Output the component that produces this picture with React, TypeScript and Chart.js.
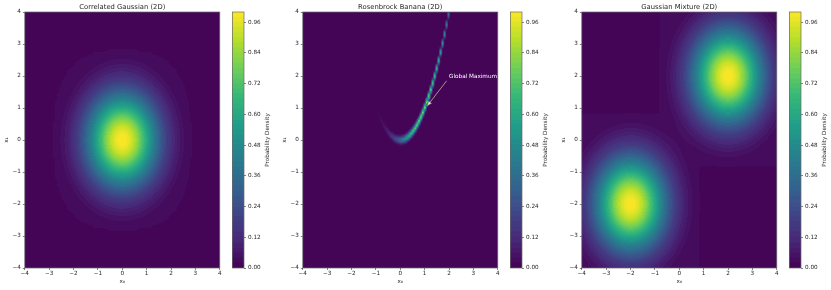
import React, { useEffect, useRef } from 'react';
import { Chart, registerables } from 'chart.js';

Chart.register(...registerables);

// ---------------- data ----------------
const axisTickValues = [-4, -3, -2, -1, 0, 1, 2, 3, 4];
const colorbarTickValues = [0, 0.12, 0.24, 0.36, 0.48, 0.6, 0.72, 0.84, 0.96];
const levelStep = 0.02;
const levelCount = 50;
const gridPoints = 100;

const panelTitles = ['Correlated Gaussian (2D)', 'Rosenbrock Banana (2D)', 'Gaussian Mixture (2D)'];
const xLabel = 'x\u2080';
const yLabel = 'x\u2081';
const colorbarLabel = 'Probability Density';

const gaussianMean = [0, 0];
const gaussianStd = [1, 1];
const gaussianTail = [2.8, 2.8]; // outer contour half-size, shape exponent

const rosenbrockCoeffs = [1, 100]; // a, b
const rosenbrockScale = [1];

const mixtureMeans = [
  [2, 2],
  [-2, -2],
];
const mixtureStds = [1, 1];
const mixtureWeights = [0.5, 0.5];
const mixtureTail = [2.8, 8];
const tailLevel = [0.03];

const annotationLabel = 'Global Maximum';
const annotationTextAt = [2, 2];
const arrowFrom = [1.9, 1.85];
const arrowTo = [1.12, 1.08];

const viridisStops = ['#440154', '#482878', '#3e4989', '#31688e', '#26828e', '#1f9e89', '#35b779', '#6ece58', '#b5de2b', '#fde725'];

// ---------------- layout / style ----------------
const FONT = 'DejaVu Sans';
const TEXT = '#262626';
const TICK = '#333333';
const FRAME = '#6a6a6a';
const TICK_FONT = 5.7;
const TITLE_FONT = 6.8;
const Y_AXIS_W = 24.8;
const X_AXIS_H = 22;
const TOP = 12;
const PANEL_W = 223;
const PANEL_RIGHT_PAD = 3.2;
const CB_W = 12;
const CB_AXIS_W = 40;
const panelLefts = [0, 278, 557];
const colorbarLefts = [232, 510, 789];

Chart.defaults.font.family = FONT;

// ---------------- helpers ----------------
const hex = (h: string) => [parseInt(h.slice(1, 3), 16), parseInt(h.slice(3, 5), 16), parseInt(h.slice(5, 7), 16)];
const stopRgb = viridisStops.map(hex);
function viridis(t: number) {
  const u = Math.min(1, Math.max(0, t)) * (stopRgb.length - 1);
  const i = Math.min(stopRgb.length - 2, Math.floor(u));
  const f = u - i;
  const a = stopRgb[i];
  const b = stopRgb[i + 1];
  return [0, 1, 2].map((k) => Math.round(a[k] + (b[k] - a[k]) * f));
}
const bandRgb = Array.from({ length: levelCount }, (_, i) => viridis((i + 0.5) / levelCount));
const bandCss = bandRgb.map((c) => `rgb(${c[0]},${c[1]},${c[2]})`);

const gridCoords = Array.from({ length: gridPoints }, (_, i) => -4 + (8 * i) / (gridPoints - 1));

function superNorm(dx: number, dy: number, p: number) {
  return Math.pow(Math.pow(Math.abs(dx), p) + Math.pow(Math.abs(dy), p), 1 / p);
}

function buildGrid(fn: (x: number, y: number) => number) {
  const z = new Float64Array(gridPoints * gridPoints);
  let max = 0;
  for (let j = 0; j < gridPoints; j++)
    for (let i = 0; i < gridPoints; i++) {
      const v = fn(gridCoords[i], gridCoords[j]);
      z[j * gridPoints + i] = v;
      if (v > max) max = v;
    }
  for (let k = 0; k < z.length; k++) z[k] /= max;
  return z;
}

const gaussianGrid = buildGrid((x, y) => {
  const dx = (x - gaussianMean[0]) / gaussianStd[0];
  const dy = (y - gaussianMean[1]) / gaussianStd[1];
  const v = Math.exp(-0.5 * (dx * dx + dy * dy));
  return superNorm(dx, dy, gaussianTail[1]) < gaussianTail[0] ? Math.max(v, tailLevel[0]) : v;
});

const rosenbrockGrid = buildGrid((x, y) => {
  const [a, b] = rosenbrockCoeffs;
  return Math.exp(-((a - x) * (a - x) + b * (y - x * x) * (y - x * x)) / rosenbrockScale[0]);
});

const mixtureGrid = buildGrid((x, y) => {
  let v = 0;
  let inTail = false;
  mixtureMeans.forEach((m, k) => {
    const dx = (x - m[0]) / mixtureStds[k];
    const dy = (y - m[1]) / mixtureStds[k];
    v += mixtureWeights[k] * Math.exp(-0.5 * (dx * dx + dy * dy));
    if (superNorm(dx, dy, mixtureTail[1]) < mixtureTail[0]) inTail = true;
  });
  return inTail ? Math.max(v, tailLevel[0] * 0.5) : v;
});

function sample(z: Float64Array, x: number, y: number) {
  const gx = ((x + 4) / 8) * (gridPoints - 1);
  const gy = ((y + 4) / 8) * (gridPoints - 1);
  const i = Math.min(gridPoints - 2, Math.max(0, Math.floor(gx)));
  const j = Math.min(gridPoints - 2, Math.max(0, Math.floor(gy)));
  const fx = Math.min(1, Math.max(0, gx - i));
  const fy = Math.min(1, Math.max(0, gy - j));
  const a = z[j * gridPoints + i];
  const b = z[j * gridPoints + i + 1];
  const c = z[(j + 1) * gridPoints + i];
  const d = z[(j + 1) * gridPoints + i + 1];
  return (a * (1 - fx) + b * fx) * (1 - fy) + (c * (1 - fx) + d * fx) * fy;
}

const fmtTick = (v: number) => (v < 0 ? '\u2212' + Math.abs(v) : String(v));

// ---------------- plugins ----------------
const heatmapPlugin = {
  id: 'heatmap',
  beforeDraw(chart: any, _args: any, opts: any) {
    const grid = opts && opts.grid;
    if (!grid) return;
    const { ctx, chartArea: ca } = chart;
    const xs = chart.scales.x;
    const ys = chart.scales.y;
    const L = Math.floor(ca.left);
    const T = Math.floor(ca.top);
    const R = Math.ceil(ca.right);
    const B = Math.ceil(ca.bottom);
    const w = R - L;
    const h = B - T;
    const off = document.createElement('canvas');
    off.width = w;
    off.height = h;
    const octx = off.getContext('2d')!;
    const img = octx.createImageData(w, h);
    const xv = new Float64Array(w);
    for (let px = 0; px < w; px++) xv[px] = xs.getValueForPixel(L + px + 0.5);
    for (let py = 0; py < h; py++) {
      const yv = ys.getValueForPixel(T + py + 0.5);
      for (let px = 0; px < w; px++) {
        const v = sample(grid, xv[px], yv);
        const band = Math.min(levelCount - 1, Math.max(0, Math.floor(v / levelStep)));
        const c = bandRgb[band];
        const o = (py * w + px) * 4;
        img.data[o] = c[0];
        img.data[o + 1] = c[1];
        img.data[o + 2] = c[2];
        img.data[o + 3] = 255;
      }
    }
    octx.putImageData(img, 0, 0);
    ctx.save();
    ctx.beginPath();
    ctx.rect(ca.left, ca.top, ca.right - ca.left, ca.bottom - ca.top);
    ctx.clip();
    ctx.drawImage(off, L, T);
    ctx.restore();
  },
};

const framePlugin = {
  id: 'frame',
  afterDraw(chart: any, _args: any, opts: any) {
    if (!opts || !opts.show) return;
    const { ctx, chartArea: ca } = chart;
    ctx.save();
    ctx.strokeStyle = FRAME;
    ctx.lineWidth = 0.7;
    ctx.strokeRect(ca.left, ca.top, ca.right - ca.left, ca.bottom - ca.top);
    ctx.restore();
  },
};

const panelTitlePlugin = {
  id: 'panelTitle',
  afterDraw(chart: any, _args: any, opts: any) {
    if (!opts || !opts.text) return;
    const { ctx, chartArea: ca } = chart;
    ctx.save();
    ctx.font = `${TITLE_FONT}px "${FONT}"`;
    ctx.fillStyle = TEXT;
    ctx.textAlign = 'center';
    ctx.textBaseline = 'middle';
    ctx.fillText(opts.text, (ca.left + ca.right) / 2, opts.y);
    ctx.restore();
  },
};

const annotationPlugin = {
  id: 'annot',
  afterDatasetsDraw(chart: any, _args: any, opts: any) {
    if (!opts || !opts.text) return;
    const { ctx } = chart;
    const xs = chart.scales.x;
    const ys = chart.scales.y;
    // arrow head
    const hx = xs.getPixelForValue(opts.to[0]);
    const hy = ys.getPixelForValue(opts.to[1]);
    const fx = xs.getPixelForValue(opts.from[0]);
    const fy = ys.getPixelForValue(opts.from[1]);
    const ang = Math.atan2(hy - fy, hx - fx);
    const len = 4;
    const half = 1.8;
    ctx.save();
    ctx.beginPath();
    ctx.moveTo(hx, hy);
    ctx.lineTo(hx - len * Math.cos(ang) + half * Math.sin(ang), hy - len * Math.sin(ang) - half * Math.cos(ang));
    ctx.lineTo(hx - len * Math.cos(ang) - half * Math.sin(ang), hy - len * Math.sin(ang) + half * Math.cos(ang));
    ctx.closePath();
    ctx.fillStyle = '#e8e8e0';
    ctx.fill();
    ctx.strokeStyle = '#8c8a78';
    ctx.lineWidth = 0.5;
    ctx.stroke();
    ctx.font = `${TICK_FONT}px "${FONT}"`;
    ctx.fillStyle = '#ffffff';
    ctx.textAlign = 'left';
    ctx.textBaseline = 'alphabetic';
    ctx.fillText(opts.text, xs.getPixelForValue(opts.at[0]), ys.getPixelForValue(opts.at[1]) + 1.5);
    ctx.restore();
  },
};

const colorbarPlugin = {
  id: 'cbar',
  afterDraw(chart: any, _args: any, opts: any) {
    if (!opts || !opts.label) return;
    const { ctx, chartArea: ca } = chart;
    ctx.save();
    ctx.strokeStyle = FRAME;
    ctx.lineWidth = 0.7;
    ctx.strokeRect(ca.left + 0.35, ca.top, ca.right - ca.left - 0.35, ca.bottom - ca.top);
    ctx.translate(ca.right + 24, (ca.top + ca.bottom) / 2);
    ctx.rotate(-Math.PI / 2);
    ctx.font = `${TICK_FONT}px "${FONT}"`;
    ctx.fillStyle = TEXT;
    ctx.textAlign = 'center';
    ctx.textBaseline = 'middle';
    ctx.fillText(opts.label, 0, 0);
    ctx.restore();
  },
};

// ---------------- components ----------------
function axisOptions(pos: 'left' | 'bottom', text: string) {
  const isY = pos === 'left';
  return {
    type: 'linear',
    position: pos,
    min: -4,
    max: 4,
    afterBuildTicks: (s: any) => {
      s.ticks = axisTickValues.map((v) => ({ value: v }));
    },
    afterFit: (s: any) => {
      if (isY) s.width = Y_AXIS_W;
      else s.height = X_AXIS_H;
    },
    ticks: {
      font: { size: TICK_FONT },
      color: TEXT,
      padding: isY ? 2 : 0.5,
      maxRotation: 0,
      autoSkip: false,
      callback: (v: number) => fmtTick(v),
    },
    grid: { drawOnChartArea: false, drawTicks: true, tickLength: 2, color: TICK, lineWidth: 0.6 },
    border: { display: false },
    title: {
      display: true,
      text,
      font: { size: TICK_FONT },
      color: TEXT,
      padding: isY ? { top: 3.6, bottom: 0 } : { top: 0, bottom: 4.6 },
    },
  };
}

function HeatPanel({ index, grid, annotate }: { index: number; grid: Float64Array; annotate?: boolean }) {
  const ref = useRef<HTMLCanvasElement | null>(null);
  useEffect(() => {
    const datasets: any[] = [];
    if (annotate) {
      datasets.push({
        type: 'line',
        data: [
          { x: arrowFrom[0], y: arrowFrom[1] },
          { x: arrowTo[0], y: arrowTo[1] },
        ],
        borderColor: '#a9a78c',
        borderWidth: 0.9,
        pointRadius: 0,
        showLine: true,
        fill: false,
      });
    }
    const chart = new Chart(ref.current!, {
      type: 'scatter',
      data: { datasets },
      options: {
        animation: false,
        responsive: false,
        events: [],
        layout: { padding: { top: TOP, left: 0, right: PANEL_RIGHT_PAD, bottom: 0 } },
        scales: { x: axisOptions('bottom', xLabel) as any, y: axisOptions('left', yLabel) as any },
        plugins: {
          legend: { display: false },
          tooltip: { enabled: false },
          title: { display: false },
          heatmap: { grid },
          frame: { show: true },
          panelTitle: { text: panelTitles[index], y: 6.8 },
          annot: annotate ? { text: annotationLabel, at: annotationTextAt, from: arrowFrom, to: arrowTo } : {},
        } as any,
      },
      plugins: [heatmapPlugin, framePlugin, panelTitlePlugin, annotationPlugin],
    });
    return () => chart.destroy();
  }, []);
  return (
    <canvas
      ref={ref}
      width={PANEL_W}
      height={290}
      style={{ position: 'absolute', left: panelLefts[index], top: 0, width: PANEL_W, height: 290 }}
    />
  );
}

function Colorbar({ index }: { index: number }) {
  const ref = useRef<HTMLCanvasElement | null>(null);
  useEffect(() => {
    const datasets = bandCss.map((c) => ({
      data: [levelStep],
      backgroundColor: c,
      borderWidth: 0,
      barPercentage: 1,
      categoryPercentage: 1,
    }));
    const chart = new Chart(ref.current!, {
      type: 'bar',
      data: { labels: ['density'], datasets },
      options: {
        animation: false,
        responsive: false,
        events: [],
        layout: { padding: { top: TOP, left: 0, right: 0, bottom: X_AXIS_H } },
        scales: {
          x: { stacked: true, display: false },
          y: {
            stacked: true,
            position: 'right',
            min: 0,
            max: levelStep * levelCount,
            afterBuildTicks: (s: any) => {
              s.ticks = colorbarTickValues.map((v) => ({ value: v }));
            },
            afterFit: (s: any) => {
              s.width = CB_AXIS_W;
            },
            ticks: {
              font: { size: TICK_FONT },
              color: TEXT,
              padding: 2,
              callback: (v: number) => v.toFixed(2),
            },
            grid: { drawOnChartArea: false, drawTicks: true, tickLength: 2, color: TICK, lineWidth: 0.6 },
            border: { display: false },
          },
        } as any,
        plugins: {
          legend: { display: false },
          tooltip: { enabled: false },
          cbar: { label: colorbarLabel },
        } as any,
      },
      plugins: [colorbarPlugin],
    });
    return () => chart.destroy();
  }, []);
  return (
    <canvas
      ref={ref}
      width={CB_W + CB_AXIS_W}
      height={290}
      style={{ position: 'absolute', left: colorbarLefts[index], top: 0, width: CB_W + CB_AXIS_W, height: 290 }}
    />
  );
}

export default function App() {
  const grids = [gaussianGrid, rosenbrockGrid, mixtureGrid];
  return (
    <div style={{ position: 'fixed', left: 0, top: 0, width: 831, height: 290, background: '#ffffff', overflow: 'hidden' }}>
      {grids.map((g, i) => (
        <React.Fragment key={i}>
          <HeatPanel index={i} grid={g} annotate={i === 1} />
          <Colorbar index={i} />
        </React.Fragment>
      ))}
    </div>
  );
}
